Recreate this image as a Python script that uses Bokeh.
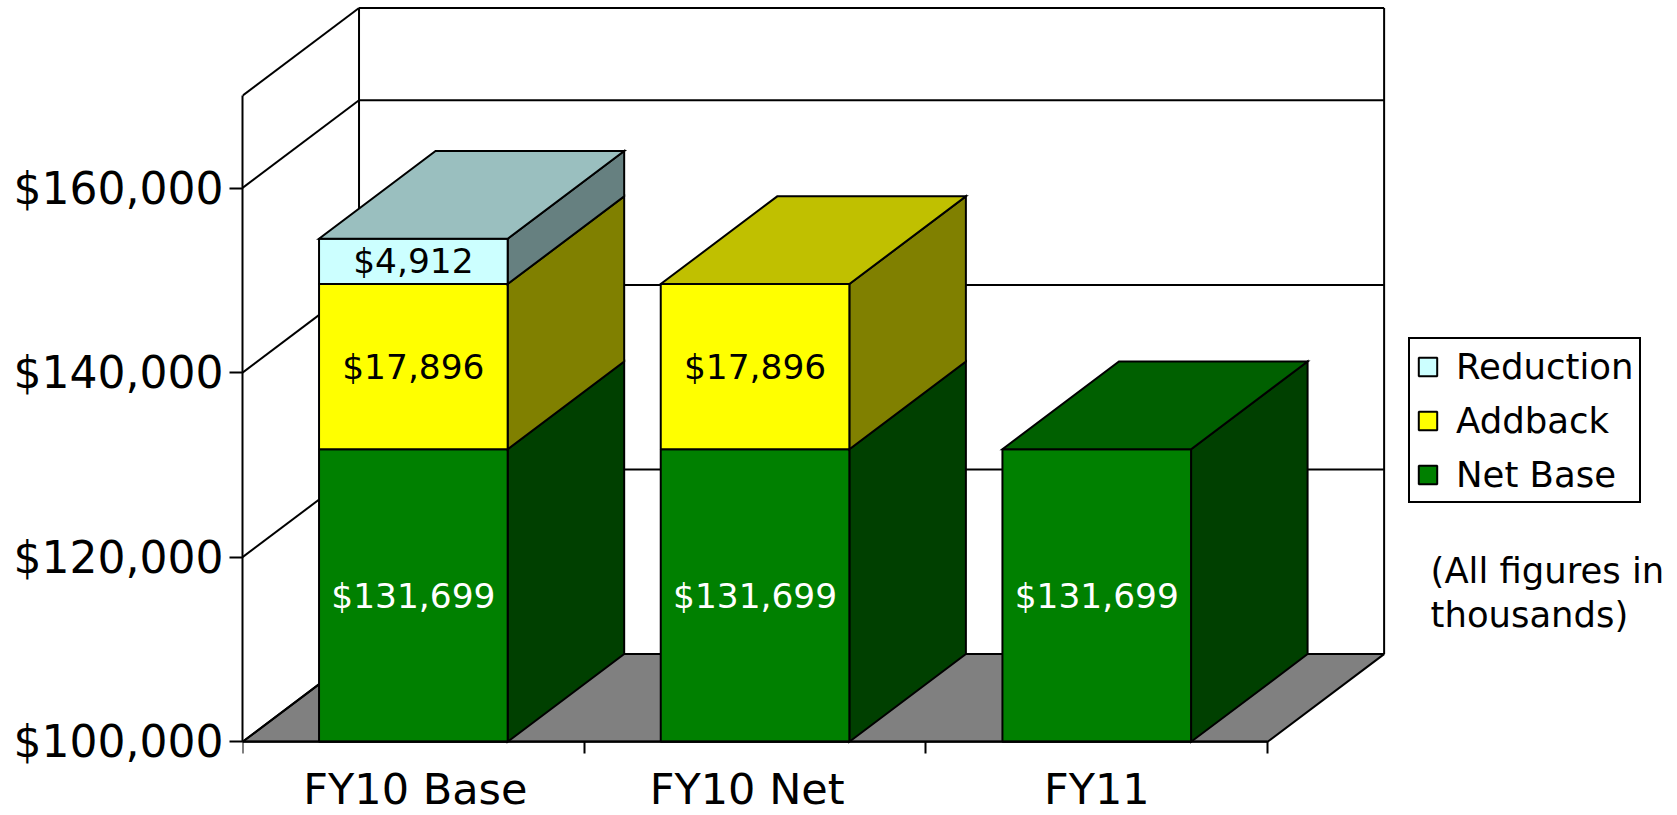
from bokeh.plotting import figure
from bokeh.models import (Range1d, FixedTicker, NumeralTickFormatter, Legend, LegendItem, Label)
from bokeh.embed import file_html
from bokeh.resources import INLINE

categories = ["FY10 Base", "FY10 Net", "FY11"]
net_base = [131699, 131699, 131699]
addback = [17896, 17896, 0]
reduction = [4912, 0, 0]
series_names = ["Net Base", "Addback", "Reduction"]
front_colors = ["#008000", "#FFFF00", "#CCFFFF"]
side_colors = ["#004000", "#808000", "#668080"]
top_colors = ["#006000", "#C0C000", "#9ABFBF"]
label_colors = ["#FFFFFF", "#000000", "#000000"]
y_ticks = [100000, 120000, 140000, 160000]
y_top = 170000
note_lines = ["(All figures in", "thousands)"]

FONT = "DejaVu Sans"
LW = 2
DX, DY = 0.341, 9500
BAR = 0.552
N = len(categories)
Y_PX = 184.6 / 20000
X_PX = 341.7

WIDTH, HEIGHT = 1670, 814
LEFT, TOP = 242, 6
AXIS_Y_PX = 741.3  # where the base value sits on the page

p = figure(width=WIDTH, height=HEIGHT, output_backend="svg", toolbar_location=None,
           x_range=Range1d(0, (WIDTH - LEFT) / X_PX),
           y_range=Range1d(y_ticks[0] - (HEIGHT - AXIS_Y_PX) / Y_PX,
                           y_ticks[0] + (AXIS_Y_PX - TOP) / Y_PX),
           min_border_left=LEFT, min_border_right=0, min_border_top=TOP, min_border_bottom=0,
           outline_line_color=None, background_fill_color="white")
p.grid.visible = False

# axes
ya = p.yaxis[0]
ya.ticker = FixedTicker(ticks=y_ticks)
ya.formatter = NumeralTickFormatter(format="$0,0")
ya.bounds = (y_ticks[0], y_top)
ya.major_tick_in = 0
ya.major_tick_out = 13
ya.minor_tick_line_color = None
ya.major_label_text_font = FONT
ya.major_label_text_font_size = "44px"
ya.major_label_text_color = "#000000"
ya.major_label_standoff = 6
ya.axis_line_color = "#000000"
ya.axis_line_width = LW
ya.major_tick_line_width = LW
ya.major_tick_line_color = "#000000"

y0 = y_ticks[0]

# floor
p.patch([0, N, N + DX, DX], [y0, y0, y0 + DY, y0 + DY], fill_color="#808080",
        line_color="#000000", line_width=LW)

# walls and gridlines
wall_values = y_ticks + [y_top]
p.segment([0] * len(wall_values), wall_values, [DX] * len(wall_values), [v + DY for v in wall_values],
          line_color="#000000", line_width=LW)
p.segment([DX] * len(wall_values), [v + DY for v in wall_values], [N + DX] * len(wall_values),
          [v + DY for v in wall_values], line_color="#000000", line_width=LW)
p.segment([DX, N + DX], [y0 + DY] * 2, [DX, N + DX], [y_top + DY] * 2,
          line_color="#000000", line_width=LW)

# bars
stack = [net_base, addback, reduction]
legend_renderers = {}
for i in range(N):
    left = i + 0.5 - BAR / 2
    right = i + 0.5 + BAR / 2
    cum = 0
    segs = []
    for s, vals in enumerate(stack):
        v = vals[i]
        if v <= 0:
            continue
        lo = max(cum, y0)
        cum += v
        segs.append((s, lo, cum, v))
    for k, (s, lo, hi, v) in enumerate(segs):
        p.patch([right, right + DX, right + DX, right], [lo, lo + DY, hi + DY, hi],
                fill_color=side_colors[s], line_color="#000000", line_width=LW, line_join="miter")
        r = p.vbar(x=[i + 0.5], width=BAR, bottom=[lo], top=[hi], fill_color=front_colors[s],
                   line_color="#000000", line_width=LW)
        legend_renderers.setdefault(s, r)
        if k == len(segs) - 1:
            p.patch([left, right, right + DX, left + DX], [hi, hi, hi + DY, hi + DY],
                    fill_color=top_colors[s], line_color="#000000", line_width=LW, line_join="miter")
    for s, lo, hi, v in segs:
        p.add_layout(Label(x=i + 0.5, y=(lo + hi) / 2, text="${:,}".format(v), text_align="center",
                           text_baseline="middle", text_font=FONT, text_font_size="34.4px",
                           text_color=label_colors[s]))

# category axis on the base value inside the frame; its names sit under the ticks
xa = p.xaxis[0]
xa.fixed_location = y0
xa.ticker = FixedTicker(ticks=list(range(N + 1)))
xa.major_label_text_font_size = "0px"
xa.major_label_text_color = None
xa.major_label_standoff = 0
xa.bounds = (0, N)
xa.major_tick_in = 0
xa.major_tick_out = 12
xa.minor_tick_line_color = None
xa.axis_line_color = "#000000"
xa.axis_line_width = LW
xa.major_tick_line_color = "#000000"
xa.major_tick_line_width = LW

label_pos = [0.506, 1.477, 2.5]
for pos, c in zip(label_pos, categories):
    p.add_layout(Label(x=pos, y=y0, y_offset=-47, text=c, text_align="center",
                       text_baseline="alphabetic", text_font=FONT, text_font_size="43px",
                       text_color="#000000"))

# note
for j, line in enumerate(note_lines):
    p.add_layout(Label(x=3.477, y=y0, y_offset=171 - 44 * j, text=line, text_align="left",
                       text_baseline="middle", text_font=FONT, text_font_size="35.4px",
                       text_color="#000000"))

# legend
items = [LegendItem(label=series_names[s], renderers=[legend_renderers[s]]) for s in (2, 1, 0)]
legend = Legend(items=items, location=(1408 - LEFT, HEIGHT - 503), orientation="vertical", margin=0, padding=6,
                spacing=12, glyph_width=23, glyph_height=23, label_standoff=17, label_height=42,
                label_text_font=FONT, label_text_font_size="35.5px", label_text_color="#000000",
                border_line_color="#000000", border_line_width=LW, border_line_alpha=1,
                background_fill_color="white", background_fill_alpha=1, click_policy="none")
p.add_layout(legend)

open("out.html", "w").write(file_html(p, INLINE))
